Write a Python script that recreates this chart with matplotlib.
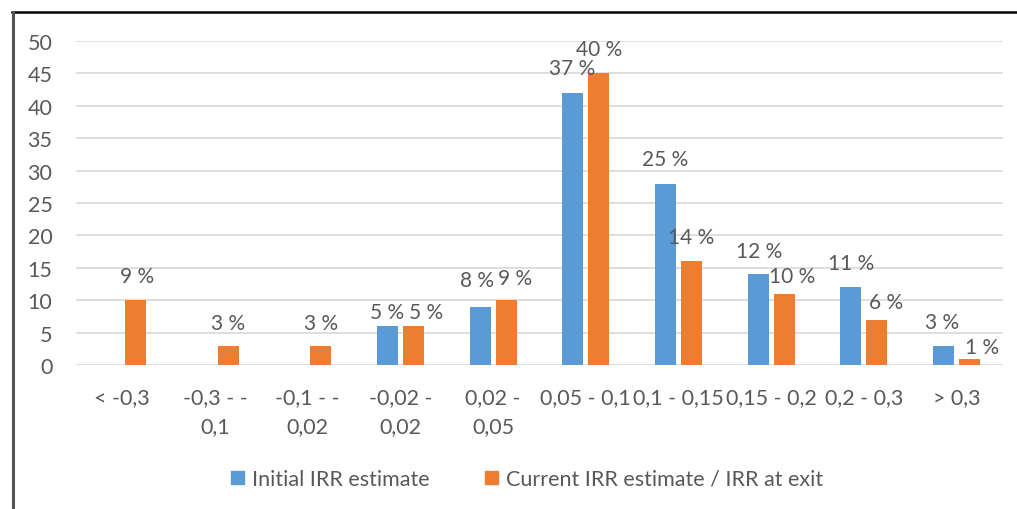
import matplotlib
matplotlib.use("Agg")
import matplotlib.pyplot as plt
from matplotlib.lines import Line2D
from matplotlib.patches import Patch
import numpy as np

plt.rcParams['font.family'] = ['Lato', 'DejaVu Sans']

categories = ["< -0,3", "-0,3 - -\n0,1", "-0,1 - -\n0,02", "-0,02 -\n0,02", "0,02 -\n0,05",
              "0,05 - 0,1", "0,1 - 0,15", "0,15 - 0,2", "0,2 - 0,3", "> 0,3"]
initial_counts = [0, 0, 0, 6, 9, 42, 28, 14, 12, 3]
current_counts = [10, 3, 3, 6, 10, 45, 16, 11, 7, 1]
initial_labels = [None, None, None, "5 %", "8 %", "37 %", "25 %", "12 %", "11 %", "3 %"]
current_labels = ["9 %", "3 %", "3 %", "5 %", "9 %", "40 %", "14 %", "10 %", "6 %", "1 %"]
series_names = ["Initial IRR estimate", "Current IRR estimate / IRR at exit"]

# label placement relative to bar top (pixels)
initial_offsets = [None, None, None, (0, 14), (-3, 27), (-1, 25), (0, 25), (1, 23), (0, 24), (-2, 24)]
current_offsets = [(2, 24), (0, 23), (0, 23), (13, 14), (9, 22), (0, 24), (0, 24), (8, 18), (9, 18), (12, 12)]

blue = "#5b9bd5"
orange = "#ed7d31"
text_grey = "#595959"

fig = plt.figure(figsize=(10.17, 5.10), dpi=100)
ax = fig.add_axes([76 / 1017, 1 - 366 / 510, (1003 - 76) / 1017, (366 - 42) / 510])

x = np.arange(len(categories))
w = 0.227
off = 0.14
b1 = ax.bar(x - off, initial_counts, w, color=blue, zorder=3)
b2 = ax.bar(x + off, current_counts, w, color=orange, zorder=3)

for bars, labels, offs in ((b1, initial_labels, initial_offsets), (b2, current_labels, current_offsets)):
    for rect, lab, o in zip(bars, labels, offs):
        if lab is None:
            continue
        ax.annotate(lab, xy=(rect.get_x() + rect.get_width() / 2, rect.get_height()),
                    xytext=o, textcoords="offset pixels", ha="center", va="center",
                    fontsize=15, color=text_grey)

ax.set_xlim(-0.5, len(categories) - 0.5)
ax.set_ylim(0, 50)
ax.set_yticks(np.arange(0, 51, 5))
ax.yaxis.grid(True, color="#d9d9d9", linewidth=1.2, zorder=0)
ax.set_axisbelow(True)
for s in ax.spines.values():
    s.set_visible(False)
ax.tick_params(axis="both", length=0, labelsize=15.5, colors=text_grey)
ax.tick_params(axis="y", pad=17)
ax.tick_params(axis="x", pad=16)
ax.set_xticks(x)
ax.set_xticklabels(categories, linespacing=1.55)

handles = [Patch(color=blue), Patch(color=orange)]
fig.legend(handles, series_names, loc="center", bbox_to_anchor=(527 / 1017, 1 - 480 / 510),
           ncol=2, frameon=False, fontsize=15.5, labelcolor=text_grey,
           handlelength=0.6, handleheight=0.6, handletextpad=0.35, columnspacing=2.6)

# outer frame lines
fig.add_artist(Line2D([12 / 1017, 1.0], [1 - 12.5 / 510, 1 - 12.5 / 510], color="black", linewidth=1.8,
                      transform=fig.transFigure))
fig.add_artist(Line2D([13 / 1017, 13 / 1017], [0, 1 - 12.5 / 510], color="#555555", linewidth=2.2,
                      transform=fig.transFigure))

fig.savefig("out.png", dpi=100)
